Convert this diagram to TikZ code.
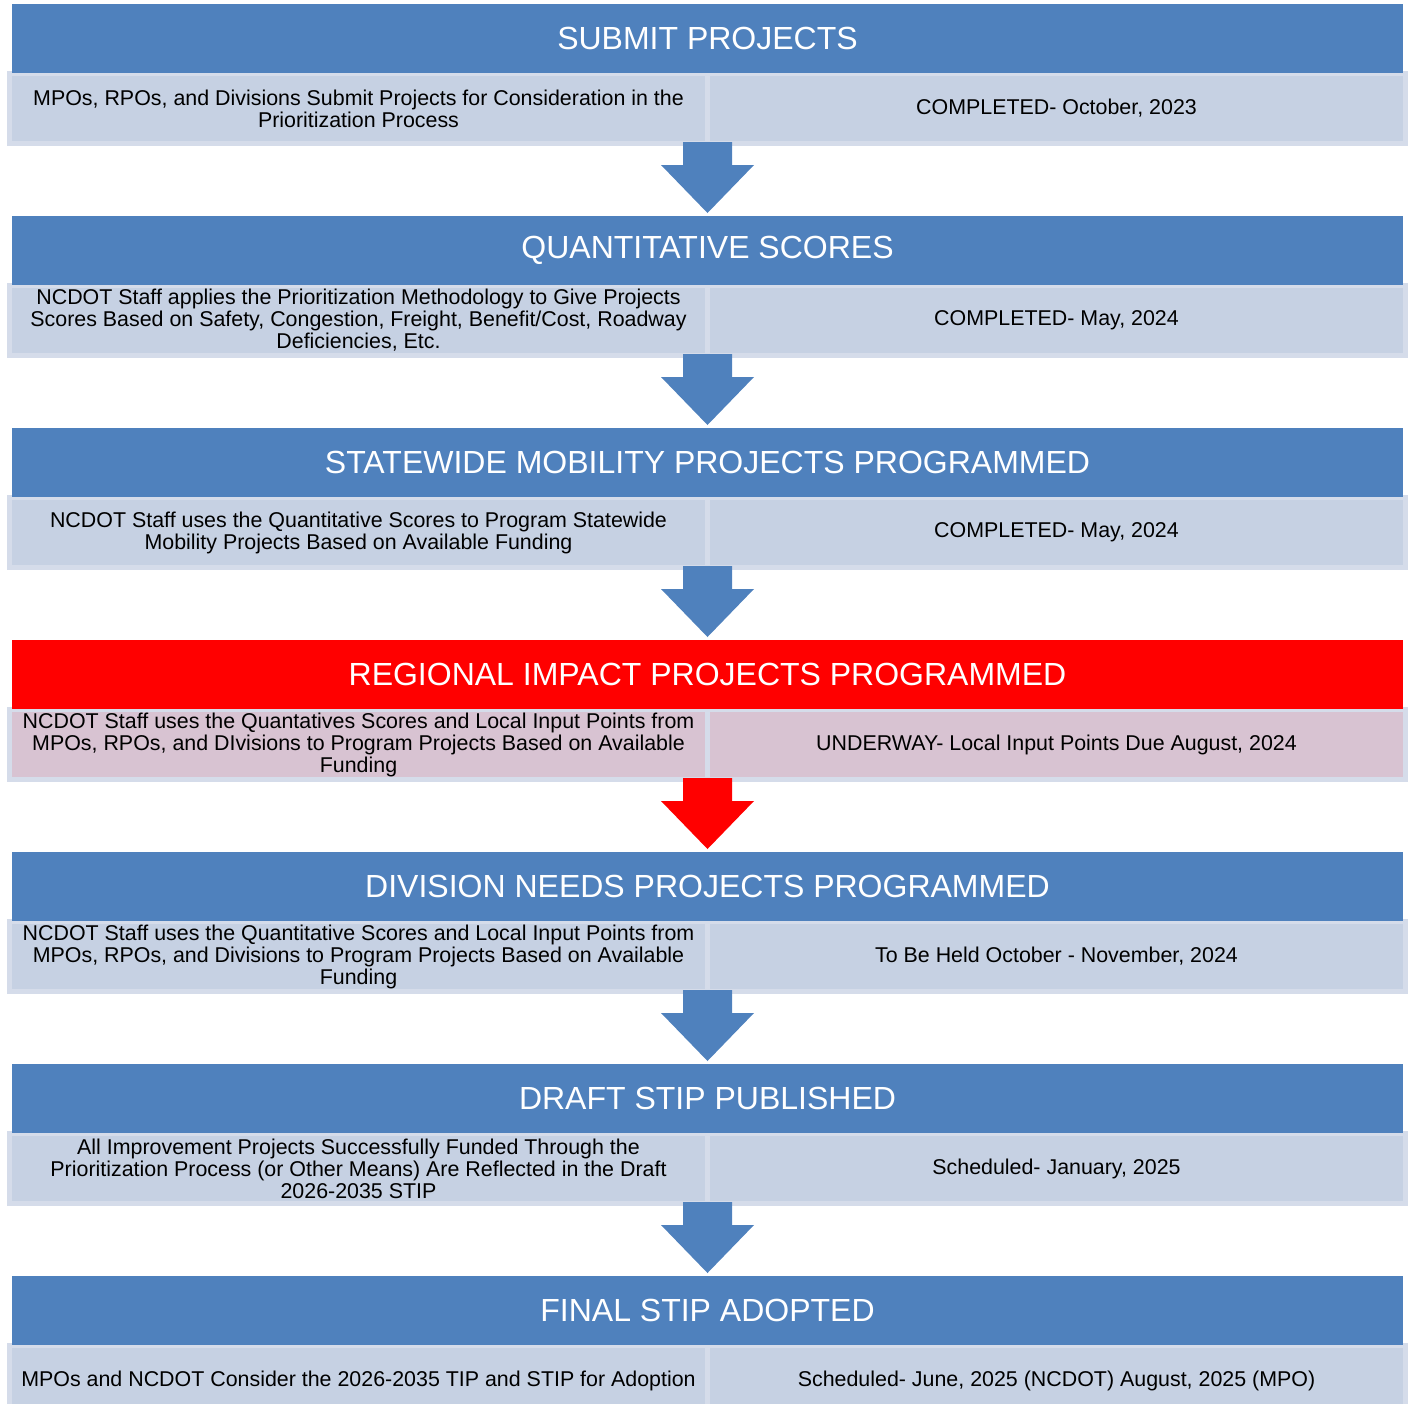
\documentclass[tikz,border=0pt]{standalone}
\usepackage{fontspec}
\setmainfont{Liberation Sans}
\usetikzlibrary{calc}
\definecolor{blue1}{RGB}{79,129,189}
\definecolor{cell1}{RGB}{198,209,227}
\definecolor{edge1}{RGB}{213,220,234}
\definecolor{red1}{RGB}{255,0,0}
\definecolor{pink1}{RGB}{216,195,210}

\begin{document}
\begin{tikzpicture}[x=1pt, y=-1pt,
  head/.style={rectangle, fill=blue1, text=white, minimum width=1391pt, minimum height=69pt,
    inner sep=0pt, outer sep=0pt, font=\fontsize{32}{36}\selectfont},
  cell/.style={rectangle, fill=cell1, draw=edge1, line width=5pt, minimum width=698pt,
    minimum height=70pt, inner sep=0pt, outer sep=0pt, align=center,
    font=\fontsize{21.4}{22}\selectfont}]
  \useasboundingbox (0,0) rectangle (1411,1403);

  % cells
  \node[cell] (l1) at (358.5,108.5) {MPOs, RPOs, and Divisions Submit Projects for Consideration in the\\Prioritization Process};
  \node[cell] (r1) at (1056.5,108.5) {COMPLETED- October, 2023};
  \node[cell] (l2) at (358.5,320.5) {NCDOT Staff applies the Prioritization Methodology to Give Projects\\Scores Based on Safety, Congestion, Freight, Benefit/Cost, Roadway\\Deficiencies, Etc.};
  \node[cell] (r2) at (1056.5,320.5) {COMPLETED- May, 2024};
  \node[cell] (l3) at (358.5,532.5) {NCDOT Staff uses the Quantitative Scores to Program Statewide\\Mobility Projects Based on Available Funding};
  \node[cell] (r3) at (1056.5,532.5) {COMPLETED- May, 2024};
  \node[cell, fill=pink1] (l4) at (358.5,744.5) {NCDOT Staff uses the Quantatives Scores and Local Input Points from\\MPOs, RPOs, and DIvisions to Program Projects Based on Available\\Funding};
  \node[cell, fill=pink1] (r4) at (1056.5,744.5) {UNDERWAY- Local Input Points Due August, 2024};
  \node[cell] (l5) at (358.5,956.5) {NCDOT Staff uses the Quantitative Scores and Local Input Points from\\MPOs, RPOs, and Divisions to Program Projects Based on Available\\Funding};
  \node[cell] (r5) at (1056.5,956.5) {To Be Held October - November, 2024};
  \node[cell] (l6) at (358.5,1168.5) {All Improvement Projects Successfully Funded Through the\\Prioritization Process (or Other Means) Are Reflected in the Draft\\2026-2035 STIP};
  \node[cell] (r6) at (1056.5,1168.5) {Scheduled- January, 2025};
  \node[cell] (l7) at (358.5,1380.5) {MPOs and NCDOT Consider the 2026-2035 TIP and STIP for Adoption};
  \node[cell] (r7) at (1056.5,1380.5) {Scheduled- June, 2025 (NCDOT) August, 2025 (MPO)};

  % headers
  \node[head] (h1) at (707.5,38.5) {SUBMIT PROJECTS};
  \node[head] (h2) at (707.5,250.5) {QUANTITATIVE SCORES};
  \node[head] (h3) at (707.5,462.5) {STATEWIDE MOBILITY PROJECTS PROGRAMMED};
  \node[head, fill=red1] (h4) at (707.5,674.5) {REGIONAL IMPACT PROJECTS PROGRAMMED};
  \node[head] (h5) at (707.5,886.5) {DIVISION NEEDS PROJECTS PROGRAMMED};
  \node[head] (h6) at (707.5,1098.5) {DRAFT STIP PUBLISHED};
  \node[head] (h7) at (707.5,1310.5) {FINAL STIP ADOPTED};

  % block arrows
  \foreach \from/\to/\c in {l1/h2/blue1, l2/h3/blue1, l3/h4/blue1, l4/h5/red1, l5/h6/blue1, l6/h7/blue1}
    \fill[\c] ($(\from.south east)+(-24.5,-1.5)$) -- ++(49,0) -- ++(0,23) -- ++(22,0)
      -- ($(\to.north)+(0,-3)$) -- ($(\from.south east)+(-46.5,21.5)$) -- ++(22,0) -- cycle;
\end{tikzpicture}
\end{document}
